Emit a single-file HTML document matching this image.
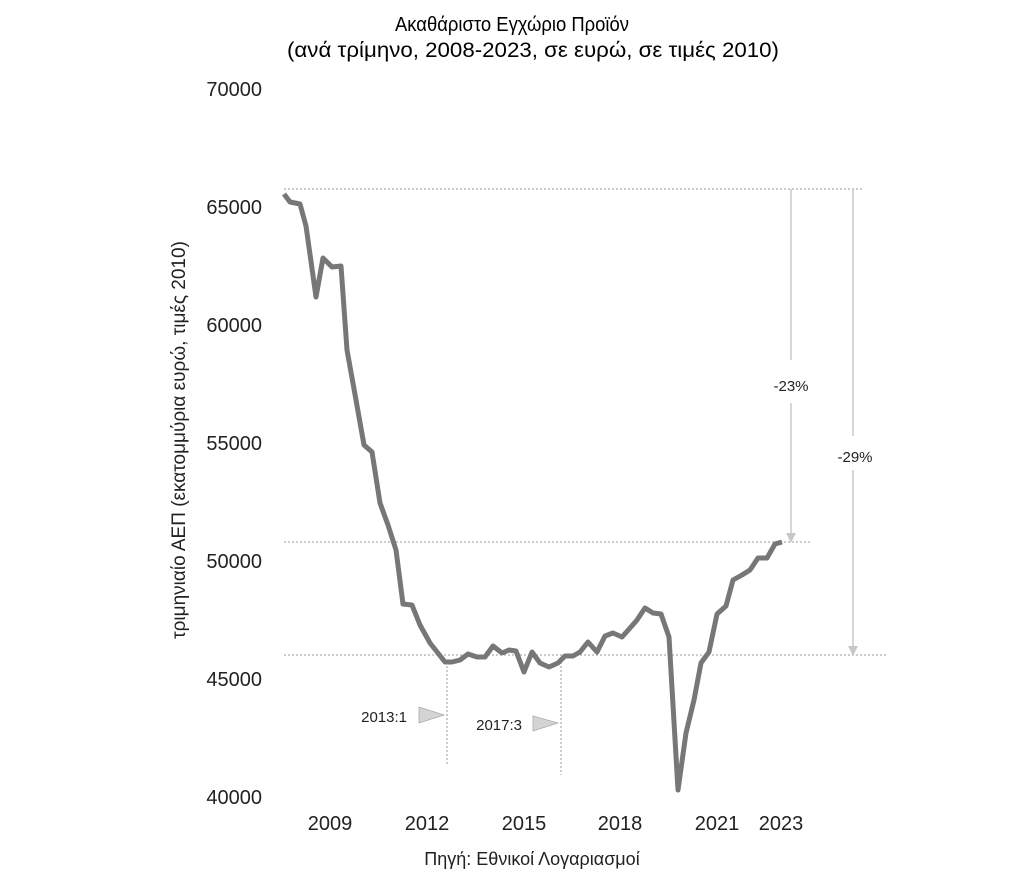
<!DOCTYPE html>
<html><head><meta charset="utf-8"><style>
html,body{margin:0;padding:0;background:#fff;}
svg text{font-family:"Liberation Sans","DejaVu Sans",sans-serif;fill:#222;}
</style></head><body>
<svg width="1024" height="875" viewBox="0 0 1024 875" xmlns="http://www.w3.org/2000/svg">
<rect width="1024" height="875" fill="#fff"/>
<text x="395" y="31" font-size="20" textLength="234" lengthAdjust="spacingAndGlyphs" style="fill:#000">Ακαθάριστο Εγχώριο Προϊόν</text>
<text x="287" y="57" font-size="21.5" textLength="492" lengthAdjust="spacingAndGlyphs" style="fill:#000">(ανά τρίμηνο, 2008-2023, σε ευρώ, σε τιμές 2010)</text>
<g font-size="20" text-anchor="end">
<text x="262" y="96">70000</text>
<text x="262" y="214">65000</text>
<text x="262" y="332">60000</text>
<text x="262" y="450">55000</text>
<text x="262" y="568">50000</text>
<text x="262" y="686">45000</text>
<text x="262" y="804">40000</text>
</g>
<text transform="translate(185,440) rotate(-90)" font-size="19" text-anchor="middle">τριμηνιαίο ΑΕΠ (εκατομμύρια ευρώ, τιμές 2010)</text>
<g font-size="20" text-anchor="middle">
<text x="330" y="830">2009</text>
<text x="427" y="830">2012</text>
<text x="524" y="830">2015</text>
<text x="620" y="830">2018</text>
<text x="717" y="830">2021</text>
<text x="781" y="830">2023</text>
</g>
<text x="532" y="865" font-size="18" text-anchor="middle">Πηγή: Εθνικοί Λογαριασμοί</text>
<g stroke="#999" stroke-width="1" stroke-dasharray="2,2" fill="none">
<line x1="284" y1="189" x2="862" y2="189"/>
<line x1="284" y1="542" x2="812" y2="542"/>
<line x1="284" y1="655" x2="888" y2="655"/>
<line x1="447" y1="662" x2="447" y2="765"/>
<line x1="561" y1="662" x2="561" y2="775"/>
</g>
<g stroke="#c8c8c8" stroke-width="1.5">
<line x1="791" y1="189" x2="791" y2="360"/>
<line x1="791" y1="403" x2="791" y2="534"/>
<line x1="853" y1="189" x2="853" y2="436"/>
<line x1="853" y1="470" x2="853" y2="647"/>
</g>
<polygon points="786,533 796,533 791,543" fill="#c8c8c8"/>
<polygon points="848,646 858,646 853,656" fill="#c8c8c8"/>
<text x="791" y="391" font-size="15" text-anchor="middle">-23%</text>
<text x="855" y="462" font-size="15" text-anchor="middle">-29%</text>
<polygon points="419,707 419,723 444,715" fill="#d4d4d4" stroke="#aaa" stroke-width="0.8"/>
<polygon points="533,716 533,731 558,723" fill="#d4d4d4" stroke="#aaa" stroke-width="0.8"/>
<text x="407" y="722" font-size="15" text-anchor="end">2013:1</text>
<text x="522" y="730" font-size="15" text-anchor="end">2017:3</text>
<polyline fill="none" stroke="#777" stroke-width="5" stroke-linejoin="round" points="284,194 290,202 300,204 306,226 316,297 323,258 332,267 341,266 347,350 356,400 364,445 372,452 380,503 388,525 396,550 403,604 412,605 420,625 430,643 445,662 452,662 460,660 468,654 477,657 485,657 493,646 502,653 509,650 516,651 524,672 532,652 540,663 549,667 558,663 565,656 573,656 580,652 588,642 597,652 605,636 613,633 622,637 630,628 637,620 645,608 653,613 661,614 669,637 678,790 686,733 694,700 701,663 709,652 717,614 726,606 733,580 742,575 750,570 758,558 767,558 775,544 782,542"/>
</svg>
</body></html>
